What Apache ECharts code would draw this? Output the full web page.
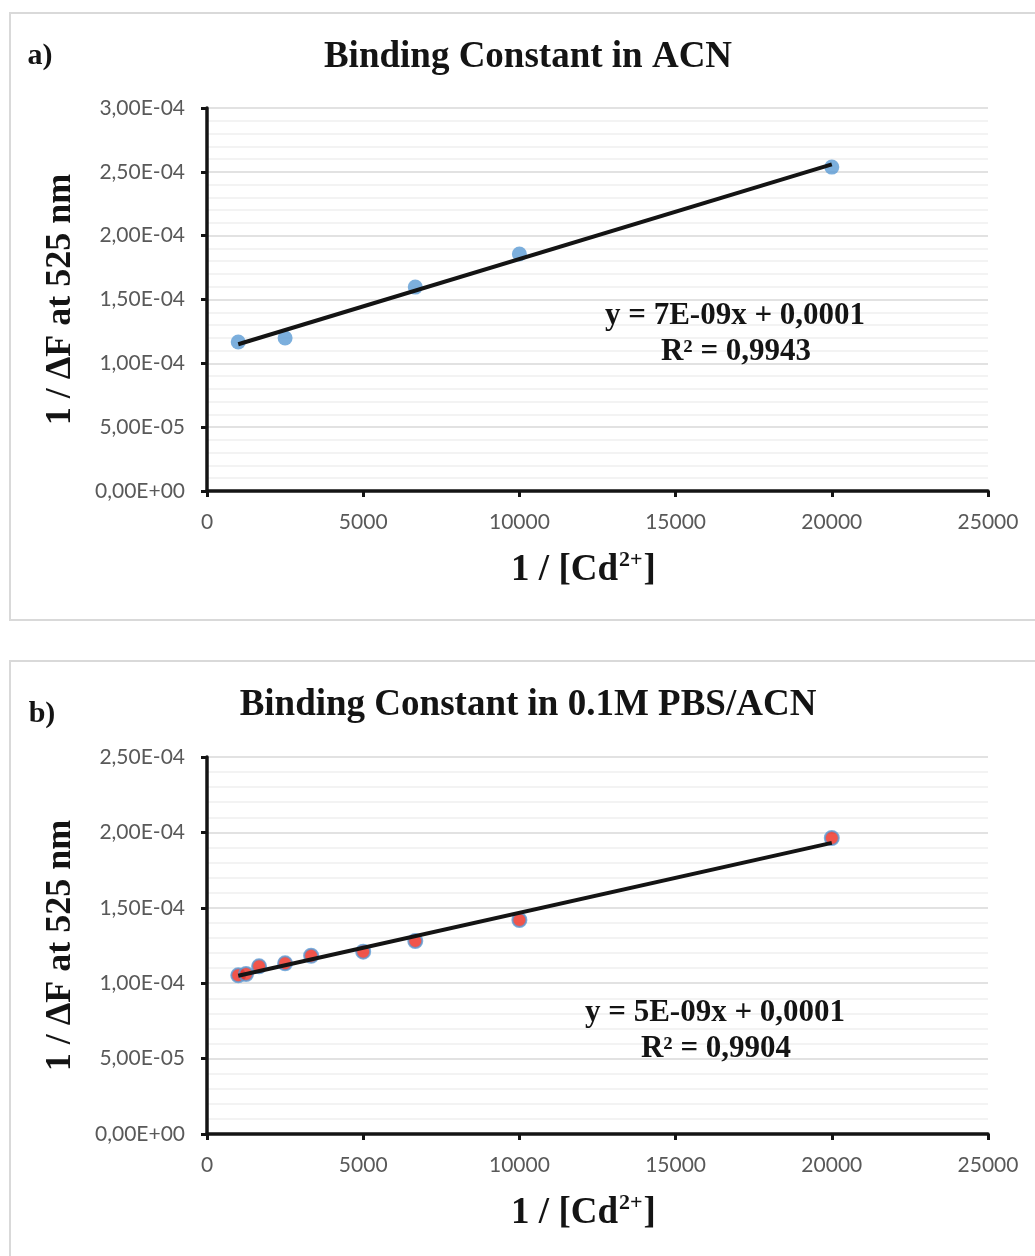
<!DOCTYPE html>
<html>
<head>
<meta charset="utf-8">
<title>Binding Constant</title>
<script src="https://cdn.jsdelivr.net/npm/echarts@6/dist/echarts.min.js"></script>
<style>
  html, body { margin: 0; padding: 0; background: #ffffff; }
  #chart { width: 1035px; height: 1256px; }
</style>
</head>
<body>
<div id="chart"></div>
<script>
// Panel a) — acetonitrile
const acnX = [1000, 2500, 6667, 10000, 20000];
const acnY = [1.167e-4, 1.198e-4, 1.597e-4, 1.856e-4, 2.537e-4];
const acnTitle = 'Binding Constant in ACN';
const acnEquation = ['y = 7E-09x + 0,0001', 'R² = 0,9943'];

// Panel b) — 0.1M PBS / acetonitrile
const pbsX = [1000, 1250, 1667, 2500, 3333, 5000, 6667, 10000, 20000];
const pbsY = [1.052e-4, 1.061e-4, 1.112e-4, 1.132e-4, 1.182e-4, 1.209e-4, 1.280e-4, 1.419e-4, 1.963e-4];
const pbsTitle = 'Binding Constant in 0.1M PBS/ACN';
const pbsEquation = ['y = 5E-09x + 0,0001', 'R² = 0,9904'];

// Axis ranges
const xRange = [0, 25000, 5000];
const acnYRange = [0, 3e-4, 5e-5];
const pbsYRange = [0, 2.5e-4, 5e-5];

const panelLabels = ['a)', 'b)'];
const yAxisTitle = '1 / ΔF at 525 nm';

// Least-squares straight line through the points
function linearFit(xs, ys) {
  const n = xs.length;
  const mx = xs.reduce((s, v) => s + v, 0) / n;
  const my = ys.reduce((s, v) => s + v, 0) / n;
  let sxy = 0, sxx = 0;
  for (let i = 0; i < n; i++) {
    sxy += (xs[i] - mx) * (ys[i] - my);
    sxx += (xs[i] - mx) * (xs[i] - mx);
  }
  const slope = sxy / sxx;
  return { slope, intercept: my - slope * mx };
}

function trendPoints(xs, ys) {
  const f = linearFit(xs, ys);
  const lo = Math.min(...xs), hi = Math.max(...xs);
  return [[lo, f.intercept + f.slope * lo], [hi, f.intercept + f.slope * hi]];
}

// "1,50E-04" style labels (decimal comma)
function sciLabel(v) {
  v = Number(Number(v).toPrecision(10));
  if (v === 0) return '0,00E+00';
  let e = Math.floor(Math.log10(Math.abs(v)));
  let m = v / Math.pow(10, e);
  if (Math.abs(m) >= 9.995) { m /= 10; e += 1; }
  return m.toFixed(2).replace('.', ',') + 'E' + (e < 0 ? '-' : '+') + String(Math.abs(e)).padStart(2, '0');
}

const serif = '"Liberation Serif", "Times New Roman", serif';
const sans = 'Lato, "Open Sans", sans-serif';
const ink = '#141414';

function xAxisFor(gridIndex) {
  return {
    type: 'value', gridIndex,
    min: xRange[0], max: xRange[1], interval: xRange[2],
    name: '{m|1 / [Cd}{s|2+}{m|]}',
    nameLocation: 'middle', nameGap: 58,
    nameTextStyle: {
      padding: [0, 28, 0, 0],
      rich: {
        m: { fontFamily: serif, fontWeight: 'bold', fontSize: 37, color: ink, lineHeight: 40, verticalAlign: 'bottom' },
        s: { fontFamily: serif, fontWeight: 'bold', fontSize: 22, color: ink, lineHeight: 40, verticalAlign: 'top', padding: [0, 1, 0, 1] }
      }
    },
    axisLine: { show: true, onZero: false, lineStyle: { color: ink, width: 3.5 } },
    axisTick: { show: true, inside: false, length: 6, lineStyle: { color: ink, width: 3 } },
    axisLabel: { color: '#595959', fontFamily: sans, fontSize: 21, margin: 21, formatter: v => String(v) },
    splitLine: { show: false }
  };
}

function yAxisFor(gridIndex, range) {
  return {
    type: 'value', gridIndex,
    min: range[0], max: range[1], interval: range[2],
    name: yAxisTitle,
    nameLocation: 'middle', nameGap: 128,
    nameTextStyle: { fontFamily: serif, fontWeight: 'bold', fontSize: 36, color: ink },
    axisLine: { show: true, onZero: false, lineStyle: { color: ink, width: 3.5 } },
    axisTick: { show: true, inside: false, length: 6, lineStyle: { color: ink, width: 3 } },
    axisLabel: { color: '#595959', fontFamily: sans, fontSize: 21, margin: 22, formatter: sciLabel },
    splitLine: { show: true, lineStyle: { color: '#d9d9d9', width: 1.5 } },
    minorTick: { show: false, splitNumber: 5 },
    minorSplitLine: { show: true, lineStyle: { color: '#f0f0f0', width: 1.5 } }
  };
}

function textItem(text, x, y, size) {
  return {
    type: 'text', x, y, z: 50,
    style: {
      text, fill: ink, font: 'bold ' + size + 'px ' + serif,
      textAlign: 'center', textVerticalAlign: 'middle'
    }
  };
}

const chart = echarts.init(document.getElementById('chart'), null, { renderer: 'canvas' });

chart.setOption({
  backgroundColor: '#ffffff',
  animation: false,
  grid: [
    { left: 207, right: 47, top: 108, height: 383 },
    { left: 207, right: 47, top: 757, height: 377 }
  ],
  xAxis: [xAxisFor(0), xAxisFor(1)],
  yAxis: [yAxisFor(0, acnYRange), yAxisFor(1, pbsYRange)],
  graphic: [
    { type: 'rect', z: -1, shape: { x: 10, y: 13, width: 1040, height: 607 },
      style: { fill: 'none', stroke: '#d9d9d9', lineWidth: 2 } },
    { type: 'rect', z: -1, shape: { x: 10, y: 661, width: 1040, height: 620 },
      style: { fill: 'none', stroke: '#d9d9d9', lineWidth: 2 } },
    textItem(panelLabels[0], 40, 56, 30),
    textItem(acnTitle, 528, 57, 37),
    textItem(acnEquation[0], 735, 316, 31),
    textItem(acnEquation[1], 736, 352, 31),
    textItem(panelLabels[1], 42, 714, 30),
    textItem(pbsTitle, 528, 705, 37),
    textItem(pbsEquation[0], 715, 1013, 31),
    textItem(pbsEquation[1], 716, 1049, 31)
  ],
  series: [
    {
      type: 'scatter', xAxisIndex: 0, yAxisIndex: 0, z: 3,
      symbol: 'circle', symbolSize: 15,
      itemStyle: { color: '#5b9bd5' },
      data: acnX.map((x, i) => [x, acnY[i]])
    },
    {
      type: 'line', xAxisIndex: 0, yAxisIndex: 0, z: 4,
      symbol: 'none', silent: true,
      lineStyle: { color: ink, width: 4 },
      data: trendPoints(acnX, acnY)
    },
    {
      type: 'scatter', xAxisIndex: 1, yAxisIndex: 1, z: 3,
      symbol: 'circle', symbolSize: 14,
      itemStyle: { color: '#ee2b1f', borderColor: '#5b9bd5', borderWidth: 2 },
      data: pbsX.map((x, i) => [x, pbsY[i]])
    },
    {
      type: 'line', xAxisIndex: 1, yAxisIndex: 1, z: 4,
      symbol: 'none', silent: true,
      lineStyle: { color: ink, width: 4 },
      data: trendPoints(pbsX, pbsY)
    }
  ]
});
</script>
</body>
</html>
